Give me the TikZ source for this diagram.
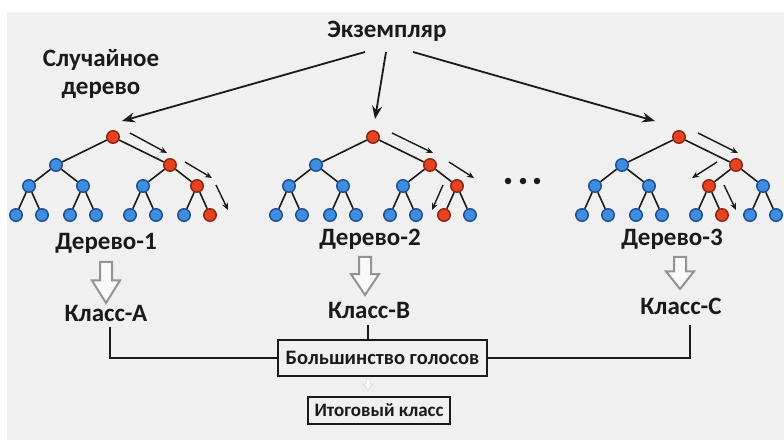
\documentclass[tikz,border=0pt]{standalone}
\usepackage{fontspec}
\setmainfont{Carlito}
\usetikzlibrary{arrows.meta,calc}
\definecolor{bgc}{HTML}{F0F0F0}
\definecolor{bluef}{HTML}{3E8EE0}
\definecolor{blued}{HTML}{1D4C96}
\definecolor{redf}{HTML}{E6431E}
\definecolor{redd}{HTML}{8E2410}
\definecolor{ink}{HTML}{1A1A1A}
\tikzset{
  tn/.style={circle,minimum size=12.5pt,inner sep=0pt,fill=bluef,draw=blued,line width=1.4pt},
  rn/.style={fill=redf,draw=redd},
  edge/.style={draw=ink,line width=1.6pt},
  patharrow/.style={draw=ink,line width=1.4pt,-{Stealth[length=7pt,width=6pt]}},
  mainarrow/.style={draw=ink,line width=1.8pt,-{Stealth[length=13pt,width=10pt]}},
  lbl/.style={text=ink,font=\bfseries\fontsize{25}{28}\selectfont,inner sep=0pt},
  boxlbl/.style={text=ink,draw=ink,line width=1.5pt,inner sep=0pt},
  hollow/.style={draw=gray!85,line width=2pt,fill=white!95!gray,line join=miter},
  conn/.style={draw=ink,line width=1.5pt},
  T1r/.style={rn},T1b/.style={rn},T1bb/.style={rn},T1bbb/.style={rn},
  T2r/.style={rn},T2b/.style={rn},T2bb/.style={rn},T2bba/.style={rn},
  T3r/.style={rn},T3b/.style={rn},T3ba/.style={rn},T3bab/.style={rn},
}
\newcommand\mktree[2]{%
  \node[tn,#1r/.try] (#1r) at (#2,137) {};
  \node[tn,#1a/.try] (#1a) at (#2-57,165) {};
  \node[tn,#1b/.try] (#1b) at (#2+57,165) {};
  \node[tn,#1aa/.try] (#1aa) at (#2-84,186) {};
  \node[tn,#1ab/.try] (#1ab) at (#2-30,186) {};
  \node[tn,#1ba/.try] (#1ba) at (#2+30,186) {};
  \node[tn,#1bb/.try] (#1bb) at (#2+84,186) {};
  \node[tn,#1aaa/.try] (#1aaa) at (#2-97,215) {};
  \node[tn,#1aab/.try] (#1aab) at (#2-71,215) {};
  \node[tn,#1aba/.try] (#1aba) at (#2-43,215) {};
  \node[tn,#1abb/.try] (#1abb) at (#2-17,215) {};
  \node[tn,#1baa/.try] (#1baa) at (#2+17,215) {};
  \node[tn,#1bab/.try] (#1bab) at (#2+43,215) {};
  \node[tn,#1bba/.try] (#1bba) at (#2+71,215) {};
  \node[tn,#1bbb/.try] (#1bbb) at (#2+97,215) {};
  \draw[edge] (#1r)--(#1a) (#1r)--(#1b)
    (#1a)--(#1aa) (#1a)--(#1ab) (#1b)--(#1ba) (#1b)--(#1bb)
    (#1aa)--(#1aaa) (#1aa)--(#1aab) (#1ab)--(#1aba) (#1ab)--(#1abb)
    (#1ba)--(#1baa) (#1ba)--(#1bab) (#1bb)--(#1bba) (#1bb)--(#1bbb);
}
\newcommand\hollowarrow[3]{% x, ytop, ytip
  \draw[hollow] ({#1-6},#2) -- ({#1+6},#2) -- ({#1+6},{#2+0.45*(#3-#2)}) -- ({#1+14},{#2+0.45*(#3-#2)})
    -- (#1,#3) -- ({#1-14},{#2+0.45*(#3-#2)}) -- ({#1-6},{#2+0.45*(#3-#2)}) -- cycle;
}
\begin{document}
\begin{tikzpicture}[x=1pt,y=-1pt]
\useasboundingbox (0,0) rectangle (784,443);
\fill[white] (0,0) rectangle (784,443);
\fill[bgc] (7,12) rectangle (784,440);

% titles
\node[lbl] (ex) at (387,31) {Экземпляр};
\node[lbl,align=center] (rt) at (101,74) {Случайное\\дерево};

% trees
\mktree{T1}{113}
\mktree{T2}{373}
\mktree{T3}{679}

% main arrows
\coordinate (m1s) at (365,52); \coordinate (m1e) at (122,121);
\coordinate (m2s) at (386,52); \coordinate (m2e) at (375,119);
\coordinate (m3s) at (413,52); \coordinate (m3e) at (655,121);
\draw[mainarrow] (m1s) -- (m1e);
\draw[mainarrow] (m2s) -- (m2e);
\draw[mainarrow] (m3s) -- (m3e);

% path arrows
\coordinate (p11s) at (130,133); \coordinate (p11e) at (167,153);
\coordinate (p12s) at (185,162); \coordinate (p12e) at (212,178);
\coordinate (p13s) at (216,185); \coordinate (p13e) at (228,210);
\coordinate (p21s) at (392,133); \coordinate (p21e) at (433,153);
\coordinate (p22s) at (449,162); \coordinate (p22e) at (474,178);
\coordinate (p23s) at (443,185); \coordinate (p23e) at (432,210);
\coordinate (p31s) at (698,133); \coordinate (p31e) at (738,153);
\coordinate (p32s) at (717,162); \coordinate (p32e) at (692,178);
\coordinate (p33s) at (724,185); \coordinate (p33e) at (736,210);
\foreach \a in {p11,p12,p13,p21,p22,p23,p31,p32,p33}
  \draw[patharrow] (\a s) -- (\a e);

% dots
\foreach \x/\n in {508/d1,523/d2,537/d3}
  \node[circle,fill=ink,minimum size=6.5pt,inner sep=0pt] (\n) at (\x,181) {};

% tree labels
\node[lbl] (D1) at (106,243) {Дерево-1};
\node[lbl] (D2) at (370,239) {Дерево-2};
\node[lbl] (D3) at (672,239) {Дерево-3};

% hollow arrows
\hollowarrow{106}{262}{303}
\hollowarrow{365}{257}{295}
\hollowarrow{680}{257}{289}

% class labels
\node[lbl] (KA) at (106,313) {Класс-А};
\node[lbl] (KB) at (369,310) {Класс-В};
\node[lbl] (KC) at (681,306) {Класс-С};

% vote box
\node[boxlbl,minimum width=209pt,minimum height=36pt,font=\bfseries\fontsize{20.5}{22}\selectfont] (vote) at (382.5,358) {Большинство голосов};
\node[boxlbl,minimum width=142pt,minimum height=27pt,font=\bfseries\fontsize{19}{20}\selectfont] (fin) at (379,410.5) {Итоговый класс};

\coordinate (ka1) at (110,327);
\coordinate (kb1) at (368,325);
\coordinate (kc1) at (690,325);
\draw[conn] (ka1) |- (vote.west);
\draw[conn] (kb1) -- (kb1 |- vote.north);
\draw[conn] (kc1) |- (vote.east);

% faint arrow
\draw[draw=gray!25,line width=1pt,fill=white] (366,379) -- (370,379) -- (370,384) -- (373,384) -- (368,390) -- (363,384) -- (366,384) -- cycle;
\end{tikzpicture}
\end{document}
